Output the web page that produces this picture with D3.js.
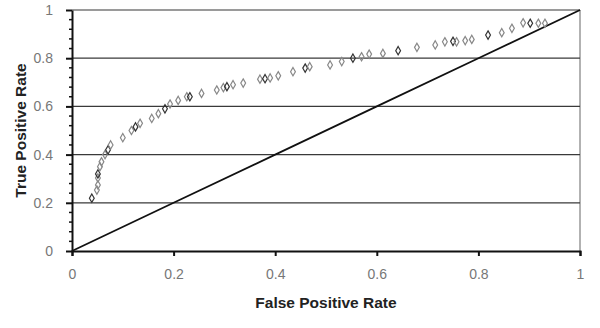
<!DOCTYPE html>
<html><head><meta charset="utf-8">
<script src="https://cdn.jsdelivr.net/npm/d3@7"></script>
<style>body{margin:0;background:#fff}svg{display:block}</style>
</head><body>
<svg id="c" width="600" height="328"></svg>
<script>
const fprValues = [0.039,0.049,0.051,0.051,0.051,0.055,0.058,0.065,0.071,0.076,0.100,0.117,0.125,0.134,0.157,0.170,0.183,0.193,0.209,0.226,0.232,0.255,0.285,0.298,0.305,0.317,0.337,0.370,0.380,0.390,0.406,0.435,0.459,0.468,0.508,0.531,0.553,0.570,0.585,0.612,0.642,0.679,0.715,0.734,0.750,0.757,0.774,0.787,0.819,0.846,0.866,0.888,0.902,0.918,0.931];
const tprValues = [0.219,0.253,0.274,0.303,0.320,0.350,0.370,0.400,0.420,0.440,0.470,0.500,0.515,0.530,0.550,0.570,0.590,0.610,0.625,0.640,0.640,0.654,0.668,0.678,0.682,0.690,0.697,0.713,0.715,0.718,0.727,0.744,0.759,0.765,0.772,0.786,0.800,0.806,0.817,0.820,0.831,0.845,0.855,0.868,0.870,0.868,0.873,0.878,0.896,0.906,0.924,0.947,0.945,0.945,0.945];
const diagonalX = [0,0.2,0.4,0.6,0.8,1];
const diagonalY = [0,0.2,0.4,0.6,0.8,1];
const xTicks = [0,0.2,0.4,0.6,0.8,1];
const yTicks = [0,0.2,0.4,0.6,0.8,1];
const xTickLabels = ["0","0.2","0.4","0.6","0.8","1"];
const yTickLabels = ["0","0.2","0.4","0.6","0.8","1"];
const yMinorTicks = [0.04,0.08,0.12,0.16,0.24,0.28,0.32,0.36,0.44,0.48,0.52,0.56,0.64,0.68,0.72,0.76,0.84,0.88,0.92,0.96];
const xTitle = "False Positive Rate";
const yTitle = "True Positive Rate";

const svg = d3.select("#c");
const L=72,R=580,T=10,B=251;
const x = d3.scaleLinear().domain([0,1]).range([L,R]);
const y = d3.scaleLinear().domain([0,1]).range([B,T]);
const font = "'Liberation Sans', Arial, sans-serif";

svg.append("line").attr("x1",R).attr("x2",R).attr("y1",T).attr("y2",B).attr("stroke","#999").attr("stroke-width",1.5);
svg.append("g").selectAll("line").data(yTicks.filter(v=>v>0)).join("line")
  .attr("x1",L).attr("x2",R).attr("y1",d=>y(d)).attr("y2",d=>y(d))
  .attr("stroke",d=>d===1?"#9a9a9a":"#3a3a3a").attr("stroke-width",d=>d===1?2:1.2);

svg.append("path").datum(diagonalX.map((v,i)=>[v,diagonalY[i]]))
  .attr("d",d3.line().x(d=>x(d[0])).y(d=>y(d[1])))
  .attr("fill","none").attr("stroke","#111").attr("stroke-width",1.8);

const sym = d3.symbol().type(d3.symbolDiamond).size(20);
svg.append("g").selectAll("path").data(fprValues.map((v,i)=>[v,tprValues[i]])).join("path")
  .attr("transform",d=>`translate(${x(d[0])},${y(d[1])})`)
  .attr("d",sym).attr("fill","none").attr("stroke",(d,i)=>i%4===0?"#333":"#888").attr("stroke-width",1.2);

const xAxis = d3.axisBottom(x).tickValues(xTicks).tickFormat((d,i)=>xTickLabels[i]).tickSize(5).tickPadding(13);
const gx = svg.append("g").attr("transform",`translate(0,${B})`).call(xAxis);
gx.select(".domain").attr("stroke","#111").attr("stroke-width",2);
gx.selectAll(".tick line").attr("stroke","#111").attr("stroke-width",2);
gx.selectAll("text").attr("font-family",font).attr("font-size",14).attr("fill","#777");

const yAxis = d3.axisLeft(y).tickValues(yTicks).tickFormat((d,i)=>yTickLabels[i]).tickSize(6).tickPadding(13).tickSizeOuter(0);
const gy = svg.append("g").attr("transform",`translate(${L},0)`).call(yAxis);
gy.select(".domain").attr("stroke","#111").attr("stroke-width",2);
gy.selectAll(".tick line").attr("stroke","#111").attr("stroke-width",2);
gy.selectAll("text").attr("font-family",font).attr("font-size",14).attr("fill","#777");
gy.append("g").selectAll("line").data(yMinorTicks).join("line")
  .attr("x1",-3).attr("x2",0).attr("y1",d=>y(d)).attr("y2",d=>y(d)).attr("stroke","#111").attr("stroke-width",1.5);

svg.append("text").attr("x",(L+R)/2).attr("y",308).attr("text-anchor","middle")
  .attr("font-family",font).attr("font-weight","bold").attr("font-size",15.5).attr("fill","#222").text(xTitle);
svg.append("text").attr("transform",`translate(26,${(T+B)/2}) rotate(-90)`).attr("text-anchor","middle")
  .attr("font-family",font).attr("font-weight","bold").attr("font-size",15.5).attr("fill","#222").text(yTitle);
</script>
</body></html>
